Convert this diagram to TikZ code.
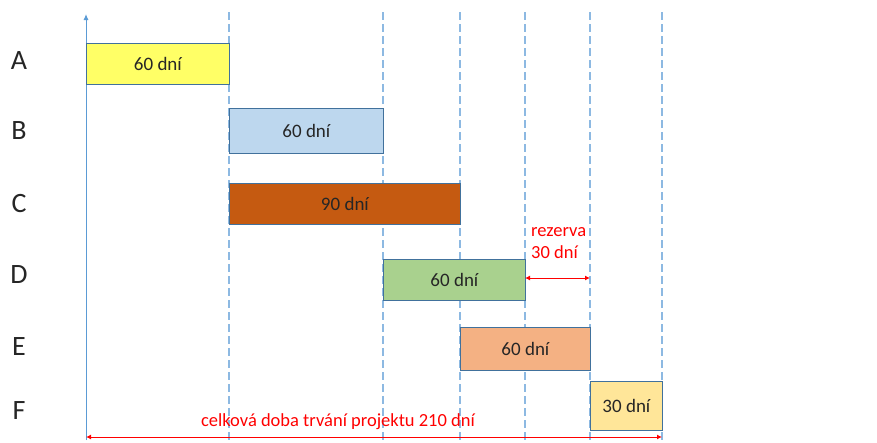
\documentclass[tikz,border=0pt]{standalone}
\usepackage{fontspec}
\setmainfont{Carlito}
\usetikzlibrary{arrows.meta}
\definecolor{axisblue}{HTML}{5B9BD5}
\definecolor{dashblue}{HTML}{8DB9E2}
\definecolor{barline}{HTML}{41719C}
\definecolor{cA}{HTML}{FFFF66}
\definecolor{cB}{HTML}{BDD7EE}
\definecolor{cC}{HTML}{C55A11}
\definecolor{cD}{HTML}{A9D18E}
\definecolor{cE}{HTML}{F4B183}
\definecolor{cF}{HTML}{FFE699}
\definecolor{redtxt}{HTML}{FF0000}
\tikzset{
  bar/.style={draw=barline, line width=0.8pt, anchor=north west, inner sep=0pt,
     font=\fontsize{19}{21}\selectfont, text=black!85},
  rowlab/.style={font=\fontsize{28}{30}\selectfont, text=black!85},
  grid/.style={dashblue, line width=1.1pt, dash pattern=on 8pt off 4pt},
  redlab/.style={text=redtxt, font=\fontsize{18.5}{22}\selectfont},
  redarrow/.style={redtxt, line width=1pt, {Latex[length=5pt,width=5pt]}-{Latex[length=5pt,width=5pt]}}
}
\begin{document}
\begin{tikzpicture}[x=1pt,y=-1pt]
\useasboundingbox (0,0) rectangle (877,442);
% grid lines
\foreach \xx in {229,383,460,525,590,662}{
  \coordinate (gt\xx) at (\xx,12);
  \coordinate (gb\xx) at (\xx,440);
  \draw[grid] (gt\xx) -- (gb\xx);
}
% axis
\coordinate (ab) at (86,440);
\coordinate (at) at (86,14);
\draw[axisblue, line width=1pt, -{Latex[length=6pt,width=5pt]}] (ab) -- (at);
% bars
\node[bar, fill=cA, minimum width=143pt, minimum height=41pt] (A) at (86,43) {60 dní};
\node[bar, fill=cB, minimum width=154pt, minimum height=45pt] (B) at (229,108) {60 dní};
\node[bar, fill=cC, minimum width=231pt, minimum height=41pt] (C) at (229,183) {90 dní};
\node[bar, fill=cD, minimum width=142pt, minimum height=41pt] (D) at (383,259) {60 dní};
\node[bar, fill=cE, minimum width=130pt, minimum height=43pt] (E) at (460,327) {60 dní};
\node[bar, fill=cF, minimum width=72pt, minimum height=49pt] (F) at (590,381) {30 dní};
% row labels
\node[rowlab] (lA) at (19,61) {A};
\node[rowlab] (lB) at (19,131) {B};
\node[rowlab] (lC) at (19,204) {C};
\node[rowlab] (lD) at (19,275) {D};
\node[rowlab] (lE) at (19,347) {E};
\node[rowlab] (lF) at (19,411) {F};
% reserve
\coordinate (r1) at (525,278);
\coordinate (r2) at (590,278);
\draw[redarrow] (r1) -- (r2);
\node[redlab, align=left, anchor=west, inner sep=0pt] (rez) at (531,243) {rezerva\\30 dní};
% total
\coordinate (t1) at (86,437);
\coordinate (t2) at (662,437);
\draw[redarrow] (t1) -- (t2);
\node[redlab] (tot) at (338,422) {celková doba trvání projektu 210 dní};
\end{tikzpicture}
\end{document}
